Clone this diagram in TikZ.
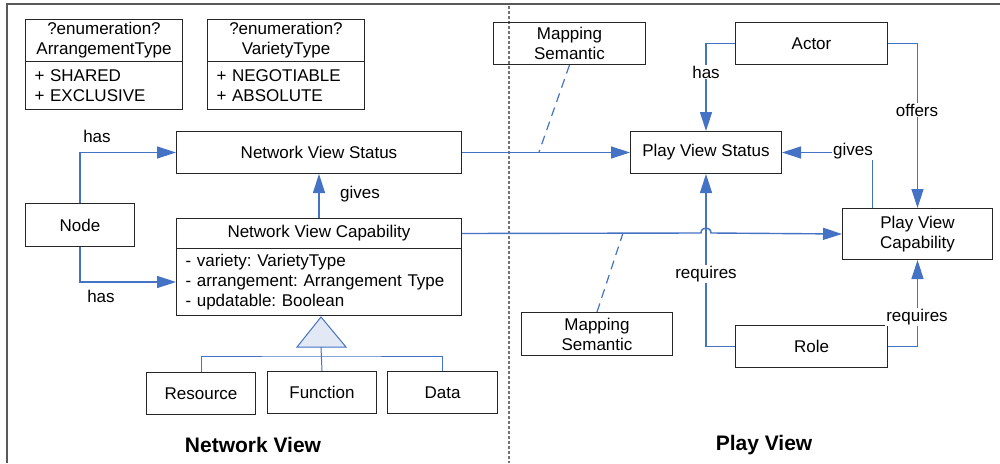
\documentclass[tikz,border=0pt]{standalone}
\usepackage{fontspec}
\setmainfont{Liberation Sans}
\usetikzlibrary{arrows.meta}
\definecolor{linkblue}{RGB}{68,114,196}
\definecolor{genfill}{RGB}{226,233,245}
\tikzset{
  box/.style={draw=black!85, line width=1pt, inner sep=0pt, align=center,
    anchor=north west, font=\fontsize{17}{20}\selectfont\frenchspacing},
  listbox/.style={box, align=left},
  link/.style={draw=linkblue, line width=1.4pt},
  arr/.style={link, -{Triangle[length=19pt,width=12pt]}},
  genline/.style={draw=linkblue, line width=1pt},
  mapline/.style={draw=linkblue, line width=1.2pt, dash pattern=on 9pt off 6pt},
  lbl/.style={fill=white, inner sep=1pt, font=\fontsize{17}{20}\selectfont},
  viewtitle/.style={font=\fontsize{21}{24}\selectfont\bfseries}
}
\begin{document}
\begin{tikzpicture}[x=1pt,y=-1pt]
\useasboundingbox (0,0) rectangle (1000,463);

% outer frame and view divider
\draw[black!65, line width=1.5pt] (1000,4) -- (7,4) -- (7,463);
\draw[black!55, line width=1.2pt, dash pattern=on 3pt off 2pt] (509,6) -- (509,463);

% enumerations
\node[box, minimum width=157, minimum height=42] (arrhead) at (25,19) {?enumeration?\\ArrangementType};
\node[listbox, minimum width=157, minimum height=48, text width=139] (arrbody) at (25,61) {+ SHARED\\+ EXCLUSIVE};
\node[box, minimum width=157, minimum height=42] (varhead) at (207,19) {?enumeration?\\VarietyType};
\node[listbox, minimum width=157, minimum height=48, text width=139] (varbody) at (207,61) {+ NEGOTIABLE\\+ ABSOLUTE};

% network view
\node[box, minimum width=285, minimum height=42] (nvs) at (176,131) {Network View Status};
\node[box, minimum width=109, minimum height=43] (node) at (25,203) {Node};
\node[box, minimum width=285, minimum height=30] (nvchead) at (176,218) {Network View Capability};
\node[listbox, minimum width=285, minimum height=67, text width=267] (nvcbody) at (176,248)
  {- variety: VarietyType\\- arrangement: Arrangement Type\\- updatable: Boolean};
\node[box, minimum width=109, minimum height=42] (resource) at (146,372) {Resource};
\node[box, minimum width=109, minimum height=42] (function) at (267,371) {Function};
\node[box, minimum width=110, minimum height=42] (data) at (387,371) {Data};

% play view
\node[box, minimum width=152, minimum height=42] (ms1) at (493,22) {Mapping\\Semantic};
\node[box, minimum width=152, minimum height=42] (actor) at (735,22) {Actor};
\node[box, minimum width=151, minimum height=42] (pvs) at (630,131) {Play View Status};
\node[box, minimum width=150, minimum height=51] (pvc) at (842,208) {Play View\\Capability};
\node[box, minimum width=151, minimum height=43] (ms2) at (521,312) {Mapping\\Semantic};
\node[box, minimum width=152, minimum height=42] (role) at (735,325) {Role};

% generalisation of the capability
\coordinate (hub) at (321,356);
\draw[genline, fill=genfill] (321,317) -- (346,347) -- (297,347) -- cycle;
\draw[genline] (321,347) -- (function.north);
\draw[genline] (resource.north) |- (hub) -| (data.north);

% network view associations
\draw[arr] (node.north) |- (nvs.west);
\draw[arr] (node.south) |- (nvcbody.west);
\draw[arr] (nvchead.north) -- (nvs.south);
\node[lbl] (lhas1) at (97,136) {has};
\node[lbl] (lhas2) at (101,296) {has};
\node[lbl] (lgives1) at (360,194) {gives};

% mappings between the views
\coordinate (m1) at (539,152);
\coordinate (m2) at (623,233);
\draw[arr] (nvs.east) -- (pvs.west);
\draw[arr] (nvchead.east) -- (701,233) .. controls (701,226.3) and (711,226.3) .. (711,233) -- (pvc.west);
\draw[mapline] (ms1.south) -- (m1);
\draw[mapline] (ms2.north) -- (m2);

% play view associations
\draw[arr] (actor.west) -| (pvs.north);
\draw[arr] (actor.east) -| (pvc.north);
\draw[arr] ([xshift=-45pt]pvc.north) |- (pvs.east);
\draw[arr] (role.west) -| (pvs.south);
\draw[arr] (role.east) -| (pvc.south);
\node[lbl] (lhas3) at (706,72) {has};
\node[lbl] (loffers) at (917,110) {offers};
\node[lbl] (lgives2) at (853,151) {gives};
\node[lbl] (lreq1) at (706,274) {requires};
\node[lbl] (lreq2) at (917,317) {requires};

% view titles
\node[viewtitle] (nvtitle) at (253,445) {Network View};
\node[viewtitle] (pvtitle) at (764,445) {Play View};
\end{tikzpicture}
\end{document}
